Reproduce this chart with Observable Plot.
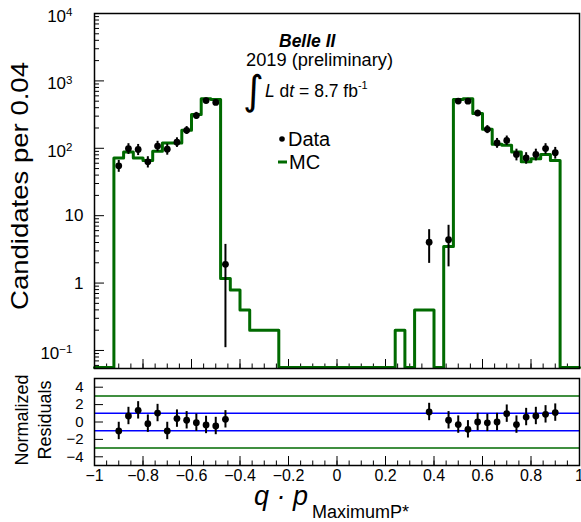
<!DOCTYPE html>
<html><head><meta charset="utf-8">
<script src="https://cdn.jsdelivr.net/npm/d3@7"></script>
<script src="https://cdn.jsdelivr.net/npm/@observablehq/plot@0.6"></script>
<style>
body{margin:0;background:#fff;}
#fig{position:relative;width:581px;height:522px;font-family:"Liberation Sans",Arial,Helvetica,sans-serif;overflow:hidden;background:#fff;}
#fig > svg{position:absolute;left:0;}
</style></head><body><div id="fig"></div>
<script>
// ---------------- data ----------------
const binWidth = 0.04;
// MC histogram, 50 bins from -1 to 1 (0 = empty bin)
const mcValues = [
  0, 0, 72, 88, 72, 66, 90, 120, 120, 185,
  316, 545, 530, 1.17, 0.79, 0.4, 0.2, 0.2, 0.2, 0,
  0, 0, 0, 0, 0, 0, 0, 0, 0, 0,
  0, 0.2, 0, 0.4, 0.4, 0, 3.5, 530, 545, 327,
  191, 115, 111, 88, 63, 70, 81, 66, 0, 0
];
// Data points (bin centres)
const dataX = [-0.90,-0.86,-0.82,-0.78,-0.74,-0.70,-0.66,-0.62,-0.58,-0.54,-0.50,-0.46,
               0.38,0.46,0.50,0.54,0.58,0.62,0.66,0.70,0.74,0.78,0.82,0.86,0.90];
const dataY = [55,99,96,63,108,97,123,185,306,510,480,1.9,
               4.05,4.4,502,500,333,191,120,131,81,72,81,99,86];
const dataErrLow = [11,18,18,12,19,18,20,25,35,45,45,1.79,
                    2.09,2.66,45,45,35,26,20,21,16,14,16,18,17];
const dataErrHigh = [11,18,18,12,19,18,20,25,35,45,45,1.85,
                     2.15,2.8,45,45,35,26,20,21,16,14,16,18,17];
// Normalized residuals
const resX = [-0.90,-0.86,-0.82,-0.78,-0.74,-0.70,-0.66,-0.62,-0.58,-0.54,-0.50,-0.46,
              0.38,0.46,0.50,0.54,0.58,0.62,0.66,0.70,0.74,0.78,0.82,0.86,0.90];
const resY = [-1.03,0.69,1.34,-0.19,1.03,-1.03,0.39,0.2,-0.08,-0.34,-0.46,0.31,
              1.15,0.2,-0.3,-0.84,0.0,-0.1,0.0,0.96,-0.3,0.57,0.69,0.88,1.08];
const resErr = [1,1,1,1,1,1,1,1,1,1,1,1, 1,1,1,1,1,1,1,1,1,1,1,1,1];
// Tick values / labels
const xTickValues = [-1,-0.8,-0.6,-0.4,-0.2,0,0.2,0.4,0.6,0.8,1];
const xTickLabels = ["−1","−0.8","−0.6","−0.4","−0.2","0","0.2","0.4","0.6","0.8","1"];
const yTickValues = [0.1,1,10,100,1000,10000];
const yTickLabels = ["10^−1","1","10","10^2","10^3","10^4"];
const resTickValues = [-4,-2,0,2,4];
const resTickLabels = ["−4","−2","0","2","4"];
const refLinesBlue = [-1,1];
const refLinesGreen = [-3,3];

// ---------------- layout ----------------
const W = 581, mL = 94, mR = 2;
const pxX = (W - mL - mR) / 2;
const H1 = 372, mT1 = 13, mB1 = 4;
const Y_MIN = 0.054, Y_MAX = 10000;
const pxDec = (H1 - mT1 - mB1) / Math.log10(Y_MAX / Y_MIN);
const up = px => Y_MIN * Math.pow(10, px / pxDec);
const H2 = 150, mT2 = 6, mB2 = 57;
const R_MIN = -5, R_MAX = 5;
const pxU = (H2 - mT2 - mB2) / (R_MAX - R_MIN);
const GREEN = "#006a00";
const FONT = "Liberation Sans, Arial, Helvetica, sans-serif";

const xMinor = d3.range(-1, 1.0001, 0.05);
const yMinor = [];
for (let e = -2; e < 4; e++) for (let m = 2; m < 10; m++) {
  const v = m * Math.pow(10, e);
  if (v > Y_MIN && v < Y_MAX) yMinor.push(v);
}

const mcFloor = up(1);
const mcStep = mcValues.map((v, i) => ({x: -1 + i * binWidth, y: v > 0 ? v : mcFloor}));
mcStep.push({x: 1, y: mcStep[mcStep.length - 1].y});

const points = dataX.map((x, i) => ({x, y: dataY[i], lo: dataY[i] - dataErrLow[i], hi: dataY[i] + dataErrHigh[i]}));
const res = resX.map((x, i) => ({x, y: resY[i], lo: resY[i] - resErr[i], hi: resY[i] + resErr[i]}));

// ---------------- top panel ----------------
const plot1 = Plot.plot({
  width: W, height: H1,
  marginLeft: mL, marginRight: mR, marginTop: mT1, marginBottom: mB1,
  style: {fontFamily: FONT, fontSize: "17px", background: "transparent", color: "#000"},
  x: {domain: [-1, 1], axis: null, label: null},
  y: {type: "log", domain: [Y_MIN, Y_MAX], label: null},
  marks: [
    Plot.ruleY(yTickValues, {x1: -1, x2: -1 + 10 / pxX, stroke: "#000", strokeWidth: 1}),
    Plot.ruleY(yMinor, {x1: -1, x2: -1 + 5 / pxX, stroke: "#000", strokeWidth: 1}),
    Plot.ruleX(xTickValues, {y1: Y_MIN, y2: up(9), stroke: "#000", strokeWidth: 1}),
    Plot.ruleX(xMinor, {y1: Y_MIN, y2: up(4.5), stroke: "#000", strokeWidth: 1}),
    Plot.line(mcStep, {x: "x", y: "y", curve: "step-after", stroke: GREEN, strokeWidth: 3}),
    Plot.ruleX(points, {x: "x", y1: "lo", y2: "hi", stroke: "#000", strokeWidth: 2}),
    Plot.dot(points, {x: "x", y: "y", r: 3.4, fill: "#000", stroke: "none"}),
    Plot.frame({stroke: "#000", strokeWidth: 1.5}),
    Plot.axisY({ticks: yTickValues, tickSize: 0, tickPadding: 11, fontSize: 17, label: null,
      tickFormat: d => yTickLabels[yTickValues.indexOf(d)]})
  ]
});
plot1.style.top = "0px";

// superscripts on log labels
d3.select(plot1).selectAll('g[aria-label="y-axis tick label"] text').each(function () {
  const t = this.textContent;
  const m = t.match(/^10\^(.+)$/);
  if (!m) return;
  const sel = d3.select(this);
  sel.text(null);
  sel.append("tspan").text("10");
  sel.append("tspan").attr("dy", "-0.5em").attr("font-size", "0.68em").text(m[1]);
  const tr = sel.attr("transform") || "";
  sel.attr("transform", tr + " translate(-11,3)");
});

// ---------------- residual panel ----------------
const plot2 = Plot.plot({
  width: W, height: H2,
  marginLeft: mL, marginRight: mR, marginTop: mT2, marginBottom: mB2,
  style: {fontFamily: FONT, fontSize: "16px", background: "transparent", color: "#000"},
  x: {domain: [-1, 1], label: null},
  y: {domain: [R_MIN, R_MAX], label: null},
  marks: [
    Plot.ruleY(refLinesGreen, {stroke: GREEN, strokeWidth: 1.5}),
    Plot.ruleY(refLinesBlue, {stroke: "#0000ff", strokeWidth: 1.5}),
    Plot.ruleY(resTickValues, {x1: -1, x2: -1 + 9 / pxX, stroke: "#000", strokeWidth: 1}),
    Plot.ruleX(xTickValues, {y1: R_MIN, y2: R_MIN + 9 / pxU, stroke: "#000", strokeWidth: 1}),
    Plot.ruleX(xMinor, {y1: R_MIN, y2: R_MIN + 4.5 / pxU, stroke: "#000", strokeWidth: 1}),
    Plot.ruleX(res, {x: "x", y1: "lo", y2: "hi", stroke: "#000", strokeWidth: 2}),
    Plot.dot(res, {x: "x", y: "y", r: 3.4, fill: "#000", stroke: "none"}),
    Plot.frame({stroke: "#000", strokeWidth: 1.5}),
    Plot.axisY({ticks: resTickValues, tickSize: 0, tickPadding: 11, fontSize: 15, label: null,
      tickFormat: d => resTickLabels[resTickValues.indexOf(d)]}),
    Plot.axisX({ticks: xTickValues, tickSize: 0, tickPadding: 4, fontSize: 16, label: null,
      tickFormat: d => xTickLabels[xTickValues.indexOf(d)]})
  ]
});
plot2.style.top = H1 + "px";

const fig = document.getElementById("fig");
fig.appendChild(plot1);
fig.appendChild(plot2);

// ---------------- titles, annotations, legend ----------------
const ov = d3.select(fig).append("svg")
  .attr("width", W).attr("height", 522)
  .style("top", "0px").style("font-family", FONT).style("pointer-events", "none");

ov.append("text").attr("transform", "translate(28,186) rotate(-90)")
  .attr("text-anchor", "middle").attr("font-size", 24)
  .attr("textLength", 248).attr("lengthAdjust", "spacingAndGlyphs")
  .text("Candidates per 0.04");

ov.append("text").attr("transform", "translate(28,420) rotate(-90)")
  .attr("text-anchor", "middle").attr("font-size", 18).text("Normalized");
ov.append("text").attr("transform", "translate(51,420) rotate(-90)")
  .attr("text-anchor", "middle").attr("font-size", 18).text("Residuals");

ov.append("text").attr("x", 254).attr("y", 505).attr("font-size", 27)
  .attr("font-style", "italic").text("q · p");
ov.append("text").attr("x", 312).attr("y", 518).attr("font-size", 18)
  .text("MaximumP*");

ov.append("text").attr("x", 279).attr("y", 47).attr("font-size", 17.5)
  .attr("font-weight", "bold").attr("font-style", "italic").text("Belle II");
ov.append("text").attr("x", 246).attr("y", 66).attr("font-size", 17.5)
  .attr("textLength", 147).attr("lengthAdjust", "spacingAndGlyphs").text("2019 (preliminary)");

ov.append("text").attr("x", 243).attr("y", 104).attr("font-size", 40)
  .attr("font-family", "DejaVu Sans").text("∫");
const lum = ov.append("text").attr("x", 265).attr("y", 97).attr("font-size", 17.5);
lum.append("tspan").attr("font-style", "italic").text("L");
lum.append("tspan").text(" d");
lum.append("tspan").attr("font-style", "italic").text("t");
lum.append("tspan").text(" = 8.7 fb");
lum.append("tspan").attr("dy", -8).attr("font-size", 11).text("-1");

ov.append("circle").attr("cx", 282).attr("cy", 139).attr("r", 2.8).attr("fill", "#000");
ov.append("text").attr("x", 288).attr("y", 146).attr("font-size", 20).text("Data");
ov.append("line").attr("x1", 278).attr("x2", 287).attr("y1", 162).attr("y2", 162)
  .attr("stroke", GREEN).attr("stroke-width", 3);
ov.append("text").attr("x", 289).attr("y", 169).attr("font-size", 20).text("MC");
</script>
</body></html>
